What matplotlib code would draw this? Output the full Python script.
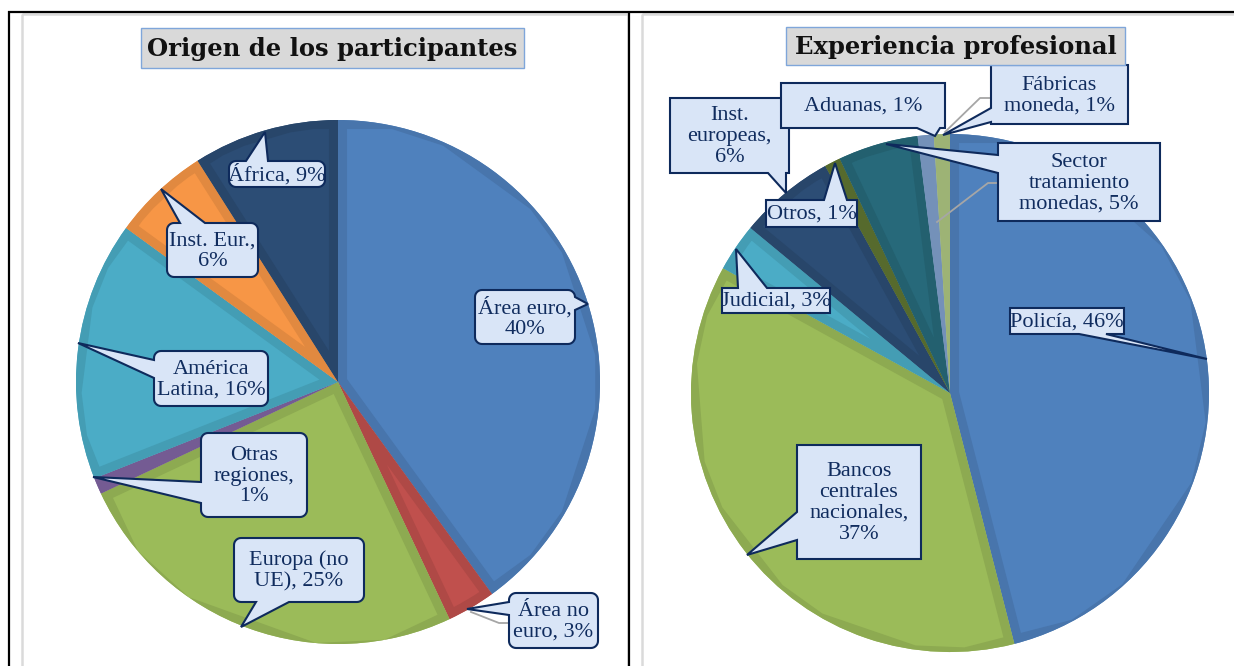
import matplotlib
matplotlib.use('Agg')
import matplotlib.pyplot as plt
from matplotlib.patches import Polygon, Rectangle
import numpy as np

W, H = 1234, 666

# ---------------- data ----------------
origen_labels = ['Área euro', 'Área no\neuro', 'Europa (no\nUE)', 'Otras\nregiones',
                 'América\nLatina', 'Inst. Eur.', 'África']
origen_values = [40, 3, 25, 1, 16, 6, 9]
origen_seps = [',\n', ', ', ', ', ',\n', ', ', ',\n', ', ']
origen_colors = ['#4F81BD', '#C0504D', '#9BBB59', '#8064A2', '#4BACC6', '#F79646', '#2C4D75']

exp_labels = ['Policía', 'Bancos\ncentrales\nnacionales', 'Judicial', 'Inst.\neuropeas',
              'Otros', 'Sector\ntratamiento\nmonedas', 'Aduanas', 'Fábricas\nmoneda']
exp_values = [46, 37, 3, 6, 1, 5, 1, 1]
exp_seps = [', ', ',\n', ', ', ',\n', ', ', ', ', ', ', ', ']
exp_colors = ['#4F81BD', '#9BBB59', '#4BACC6', '#2C4D75', '#5E7431', '#27697A', '#7F9FCB', '#ADC581']

title_left = 'Origen de los participantes'
title_right = 'Experiencia profesional'

# ---------------- layout (pixel coordinates) ----------------
# box (x0, y0, x1, y1), pointer side, pointer base (a, b), tip (x, y)
origen_callouts = [
    ((475, 290, 575, 344), 'R', (297, 310), (588, 304)),
    ((509, 593, 598, 648), 'L', (602, 615), (467, 609)),
    ((234, 538, 364, 602), 'B', (256, 289), (241, 627)),
    ((201, 433, 307, 517), 'L', (482, 503), (93, 477)),
    ((154, 351, 268, 406), 'L', (360, 378), (78, 343)),
    ((167, 223, 258, 277), 'T', (180, 205), (161, 189)),
    ((229, 161, 325, 187), 'T', (246, 268), (265, 132)),
]
exp_callouts = [
    ((1010, 308, 1124, 334), 'B', (1079, 1106), (1207, 359)),
    ((797, 445, 921, 559), 'L', (512, 540), (747, 555)),
    ((722, 288, 830, 313), 'T', (738, 767), (736, 249)),
    ((670, 98, 789, 173), 'B', (768, 786), (786, 193)),
    ((766, 200, 857, 227), 'T', (824, 847), (835, 163)),
    ((998, 143, 1160, 221), 'L', (155, 173), (886, 144)),
    ((781, 83, 945, 128), 'B', (917, 940), (935, 136)),
    ((991, 65, 1128, 124), 'L', (108, 122), (943, 135)),
]
grey_leaders = [
    [(509, 623), (499, 623), (471, 612)],
    [(998, 183), (988, 183), (937, 222)],
    [(991, 98), (980, 98), (945, 132)],
]

LABEL_FONT = 'Liberation Serif'
TITLE_FONT = 'DejaVu Serif'
BOX_FACE = '#D9E5F7'
BOX_EDGE = '#0E2A5C'
TEXT_COL = '#102C5E'

fig = plt.figure(figsize=(W / 100, H / 100), dpi=100)
ax = fig.add_axes([0, 0, 1, 1])


def darker(c, f=0.91):
    rgb = np.array(matplotlib.colors.to_rgb(c))
    return tuple(rgb * f)


def draw_pie(values, colors, center, radius):
    wedges, _ = ax.pie(values, colors=colors, startangle=-90, counterclock=True,
                       center=center, radius=radius, frame=True,
                       wedgeprops=dict(linewidth=0))
    for w, c in zip(wedges, colors):
        w.set_zorder(1)
        band = Polygon(w.get_path().vertices, closed=True, facecolor='none',
                       edgecolor=darker(c), linewidth=13, zorder=1.5)
        ax.add_patch(band)
        band.set_clip_path(w)
    return wedges


def callout_pts(box, side, base, tip, r, n=8):
    x0, y0, x1, y1 = box
    a, b = base
    pts = []

    def arc(cx, cy, s, e):
        for t in np.linspace(s, e, n):
            pts.append((cx + r * np.cos(np.radians(t)), cy + r * np.sin(np.radians(t))))

    pts.append((x0 + r, y0))
    if side == 'T':
        pts += [(a, y0), tip, (b, y0)]
    pts.append((x1 - r, y0))
    arc(x1 - r, y0 + r, 270, 360)
    if side == 'R':
        pts += [(x1, a), tip, (x1, b)]
    pts.append((x1, y1 - r))
    arc(x1 - r, y1 - r, 0, 90)
    if side == 'B':
        pts += [(b, y1), tip, (a, y1)]
    pts.append((x0 + r, y1))
    arc(x0 + r, y1 - r, 90, 180)
    if side == 'L':
        pts += [(x0, b), tip, (x0, a)]
    pts.append((x0, y0 + r))
    arc(x0 + r, y0 + r, 180, 270)
    return pts


def draw_callouts(labels, values, seps, callouts, rounded):
    for lab, v, sep, (box, side, base, tip) in zip(labels, values, seps, callouts):
        r = 7 if rounded else 0
        pts = callout_pts(box, side, base, tip, r)
        ax.add_patch(Polygon(pts, closed=True, facecolor=BOX_FACE, edgecolor=BOX_EDGE,
                             linewidth=1.5, joinstyle='miter', zorder=3))
        cx = (box[0] + box[2]) / 2
        cy = (box[1] + box[3]) / 2
        ax.text(cx, cy + 1, f'{lab}{sep}{v}%', ha='center', va='center',
                fontsize=16, family=LABEL_FONT, color=TEXT_COL,
                linespacing=1.13, zorder=4)


# ---------- table borders & chart frames ----------
ax.add_patch(Rectangle((22, 13.5), 606, 700, facecolor='none', edgecolor='#DADADA', linewidth=1.8, zorder=0))
ax.add_patch(Rectangle((642, 13.5), 700, 700, facecolor='none', edgecolor='#DADADA', linewidth=1.8, zorder=0))
ax.plot([8, W], [11.5, 11.5], color='black', linewidth=1.6, zorder=5, solid_capstyle='butt')
ax.plot([8.5, 8.5], [11, H], color='black', linewidth=1.6, zorder=5, solid_capstyle='butt')
ax.plot([628.5, 628.5], [11, H], color='black', linewidth=1.6, zorder=5, solid_capstyle='butt')

# ---------- pies ----------
draw_pie(origen_values, origen_colors, (338, 382), 262)
draw_pie(exp_values, exp_colors, (950, 393), 259)

for pts in grey_leaders:
    xs, ys = zip(*pts)
    ax.plot(xs, ys, color='#A6A6A6', linewidth=1.3, zorder=2)

draw_callouts(origen_labels, origen_values, origen_seps, origen_callouts, True)
draw_callouts(exp_labels, exp_values, exp_seps, exp_callouts, False)

# ---------- titles ----------
for (x0, y0, x1, y1), t in [((141, 28, 524, 68), title_left), ((786, 27, 1125, 65), title_right)]:
    ax.add_patch(Rectangle((x0, y0), x1 - x0, y1 - y0, facecolor='#D9D9D9',
                           edgecolor='#7FA6DA', linewidth=1.0, zorder=3))
    ax.text((x0 + x1) / 2, (y0 + y1) / 2 + 1, t, ha='center', va='center',
            fontsize=17.5, fontweight='bold', family=TITLE_FONT, color='#111111', zorder=4)

ax.set_aspect('auto')
ax.set_xlim(0, W)
ax.set_ylim(H, 0)
ax.axis('off')
fig.savefig('out.png', dpi=100)
